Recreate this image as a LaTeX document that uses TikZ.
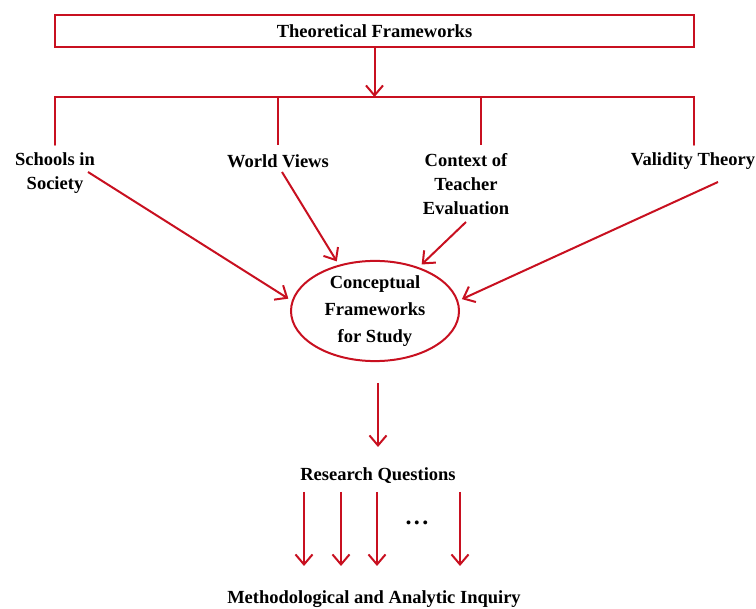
\documentclass[tikz,border=0pt]{standalone}
\usepackage{fontspec}
\setmainfont{Liberation Serif}
\usetikzlibrary{arrows.meta,shapes.geometric}
\definecolor{fwred}{RGB}{200,16,32}
\begin{document}
\begin{tikzpicture}[x=1pt,y=-1pt,
  link/.style={draw=fwred,line width=2pt},
  arr/.style={link,-{Straight Barb[length=10pt,width=17pt,line width=2pt]}},
  lbl/.style={inner sep=0pt,align=center,font=\bfseries\fontsize{18.5}{24}\selectfont},
]
\useasboundingbox (0,0) rectangle (756,609);

% top box
\node[link,minimum width=639pt,minimum height=32pt,inner sep=0pt,
      font=\bfseries\fontsize{18.5}{24}\selectfont] (theory) at (374.5,31) {Theoretical Frameworks};

% branching bar
\coordinate (bar) at (374.5,97);
\coordinate (barL) at (55,97);
\coordinate (barR) at (694,97);
\coordinate (b1) at (55,145);
\coordinate (b2) at (278,145);
\coordinate (b3) at (481,145);
\coordinate (b4) at (694,145);
\draw[arr] (theory.south) -- (bar);
\draw[link,line cap=round,line join=miter] (b1) -- (barL) -- (barR) -- (b4);
\draw[link] (b2) -- (b2 |- bar);
\draw[link] (b3) -- (b3 |- bar);

% four frameworks
\node[lbl] (schools) at (55,173) {Schools in\\Society};
\node[lbl] (views) at (278,161) {World Views};
\node[lbl] (context) at (466,184) {Context of\\Teacher\\Evaluation};
\node[lbl] (validity) at (693,161) {Validity Theory};

% conceptual frameworks
\node[draw=fwred,line width=2pt,ellipse,minimum width=168pt,minimum height=100pt,inner sep=0pt,
      align=center,font=\bfseries\fontsize{18.5}{27}\selectfont] (concept) at (375,311)
      {Conceptual\\Frameworks\\for Study};

\coordinate (s1) at (88,172);
\coordinate (s2) at (282,172);
\coordinate (s3) at (466,222);
\coordinate (s4) at (718,182);
\draw[arr,shorten >=4pt] (s1) -- (concept.173);
\draw[arr,shorten >=4pt] (s2) -- (concept.128);
\draw[arr,shorten >=4pt] (s3) -- (concept.45);
\draw[arr,shorten >=4pt] (s4) -- (concept.7);

% research questions
\node[lbl] (rq) at (378,476) {Research Questions};
\coordinate (c1) at (378,383);
\draw[arr] (c1) -- (378,447);

\node[lbl] (inquiry) at (374,599) {Methodological and Analytic Inquiry};
\node[lbl,font=\bfseries\fontsize{24}{24}\selectfont] (dots) at (417,523) {.\hspace{2.5pt}.\hspace{2.5pt}.};

\foreach \x [count=\i] in {304,341,377,460}{
  \coordinate (q\i) at (\x,492);
  \coordinate (m\i) at (\x,566);
  \draw[arr] (q\i) -- (m\i);
}
\end{tikzpicture}
\end{document}
